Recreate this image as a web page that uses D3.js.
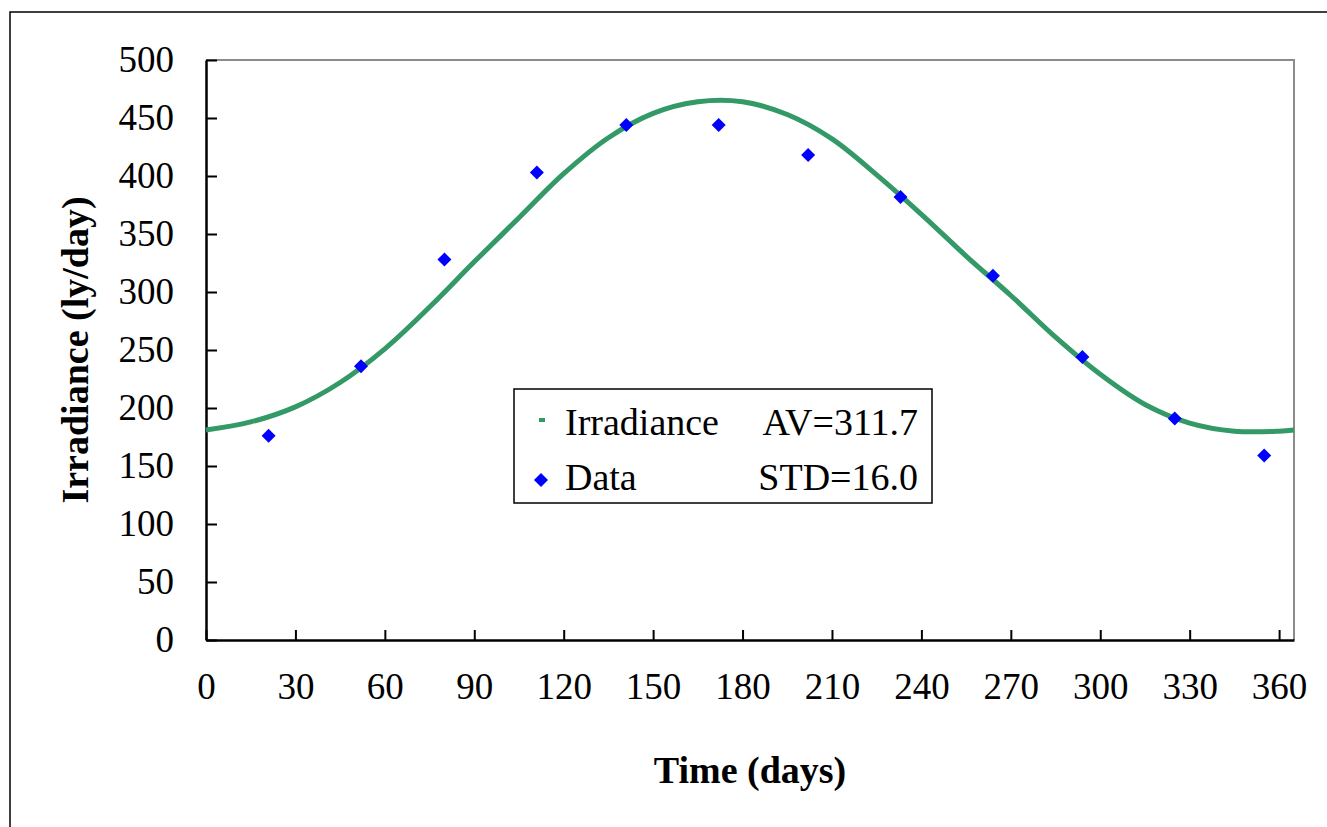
<!DOCTYPE html>
<html>
<head>
<meta charset="utf-8">
<script src="https://cdn.jsdelivr.net/npm/d3@7"></script>
<style>
  html, body { margin: 0; padding: 0; background: #fff; }
  svg { display: block; }
  text { font-family: "Liberation Serif", "Times New Roman", serif; fill: #000; }
</style>
</head>
<body>
<svg id="chart" width="1327" height="827"></svg>
<script>
// ---- data ----
const curveDays   = [0, 15, 30, 45, 60, 75, 90, 105, 120, 135, 150, 165, 180, 195, 210, 225, 240, 255, 270, 285, 300, 315, 330, 345, 360, 365];
const curveValues = [181, 188, 201, 222, 251, 287, 326, 364, 402, 433, 454, 464, 464, 453, 432, 401, 367, 331, 297, 261, 229, 203, 187, 180, 180, 181];
const dataDays    = [21, 52, 80, 111, 141, 172, 202, 233, 264, 294, 325, 355];
const dataValues  = [176, 236, 328, 403, 444, 444, 418, 382, 314, 244, 191, 159];
const xTicks = [0, 30, 60, 90, 120, 150, 180, 210, 240, 270, 300, 330, 360];
const yTicks = [0, 50, 100, 150, 200, 250, 300, 350, 400, 450, 500];
const seriesNames = ["Irradiance", "Data"];
const seriesStats = ["AV=311.7", "STD=16.0"];
const xTitle = "Time (days)";
const yTitle = "Irradiance (ly/day)";

(function () {
// ---- layout ----
const svg = d3.select("#chart");
const pL = 206, pR = 1294, pT = 60, pB = 640;
const green = "#339966", blue = "#0000ff";

const x = d3.scaleLinear().domain([0, 365]).range([pL, pR]);
const y = d3.scaleLinear().domain([0, 500]).range([pB, pT]);

// outer frame
svg.append("rect").attr("x", 10).attr("y", 12).attr("width", 1340).attr("height", 840)
  .attr("fill", "none").attr("stroke", "#000").attr("stroke-width", 1.5);

// plot area border (top/right gray)
svg.append("path")
  .attr("d", `M${pL},${pT}H${pR}V${pB}`)
  .attr("fill", "none").attr("stroke", "#8c8c8c").attr("stroke-width", 2);

// axes
const xAxis = d3.axisBottom(x).tickValues(xTicks).tickSize(-10).tickPadding(26).tickSizeOuter(0);
const gx = svg.append("g").attr("transform", `translate(0,${pB})`).call(xAxis);
gx.select(".domain").attr("stroke", "#000").attr("stroke-width", 2.5);
gx.selectAll(".tick line").attr("stroke", "#000").attr("stroke-width", 2);
gx.selectAll(".tick text").attr("font-size", 37).attr("font-family", "Liberation Serif").attr("dy", "0.9em");

const yAxis = d3.axisLeft(y).tickValues(yTicks).tickSize(-11).tickPadding(32).tickSizeOuter(0);
const gy = svg.append("g").attr("transform", `translate(${pL},0)`).call(yAxis);
gy.select(".domain").attr("stroke", "#000").attr("stroke-width", 2.5);
gy.selectAll(".tick line").attr("stroke", "#000").attr("stroke-width", 2);
gy.selectAll(".tick text").attr("font-size", 37).attr("font-family", "Liberation Serif");

// curve
const line = d3.line().x((d, i) => x(curveDays[i])).y((d) => y(d)).curve(d3.curveCatmullRom.alpha(0.5));
svg.append("path").attr("d", line(curveValues))
  .attr("fill", "none").attr("stroke", green).attr("stroke-width", 5);

// data diamonds
const diamond = d3.symbol().type(d3.symbolSquare).size(98);
svg.append("g").selectAll("path").data(dataValues).join("path")
  .attr("d", diamond())
  .attr("transform", (d, i) => `translate(${x(dataDays[i])},${y(d)}) rotate(45)`)
  .attr("fill", blue);

// axis titles
svg.append("text").attr("x", (pL + pR) / 2).attr("y", 783)
  .attr("text-anchor", "middle").attr("font-size", 38).attr("font-weight", "bold").text(xTitle);
svg.append("text").attr("transform", `translate(88,${(pT + pB) / 2}) rotate(-90)`)
  .attr("text-anchor", "middle").attr("font-size", 38).attr("font-weight", "bold").text(yTitle);

// legend
const lg = svg.append("g");
lg.append("rect").attr("x", 514).attr("y", 389).attr("width", 418).attr("height", 114)
  .attr("fill", "#fff").attr("stroke", "#000").attr("stroke-width", 1.5);
lg.append("rect").attr("x", 539).attr("y", 418).attr("width", 6).attr("height", 4).attr("fill", green);
lg.append("path").attr("d", diamond()).attr("transform", "translate(541,480) rotate(45)").attr("fill", blue);
const rowsY = [435, 490];
seriesNames.forEach((n, i) => {
  lg.append("text").attr("x", 565).attr("y", rowsY[i]).attr("font-size", 38).text(n);
  lg.append("text").attr("x", 918).attr("y", rowsY[i]).attr("font-size", 38).attr("text-anchor", "end").text(seriesStats[i]);
});
})();
</script>
</body>
</html>
